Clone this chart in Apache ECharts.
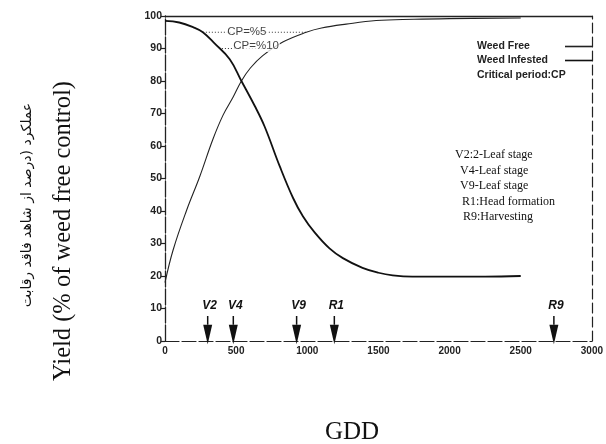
<!DOCTYPE html>
<html>
<head>
<meta charset="utf-8">
<script src="https://cdn.jsdelivr.net/npm/echarts@6/dist/echarts.min.js"></script>
<style>
html,body{margin:0;padding:0;background:#fff;}
#chart{width:606px;height:444px;}
</style>
</head>
<body>
<div id="chart"></div>
<script>
// ---- data ----
const freeGdd = [0, 57, 150, 245, 336, 408, 478, 537, 600, 687, 828, 993, 1100, 1273, 1484, 1750, 2000, 2500];
const freeYield = [18, 28, 40, 50.7, 62, 69.5, 75, 80, 84, 87.8, 92, 95, 96.3, 97.5, 98.6, 99, 99.2, 99.4];
const infGdd = [0, 100, 200, 266, 350, 455, 537, 631, 700, 806, 900, 969, 1050, 1156, 1250, 1388, 1500, 1600, 1738, 2000, 2250, 2500];
const infYield = [98.5, 98, 96.5, 95, 91.5, 86.7, 80, 72.3, 66, 53.8, 44, 38.4, 33.5, 28.5, 25.5, 22.5, 21, 20.2, 19.8, 19.8, 19.8, 20];
const cp5Gdd = [266, 993];
const cp5Yield = [95, 95];
const cp10Gdd = [400, 760];
const cp10Yield = [90, 90];
const cpLabels = ['CP=%5', 'CP=%10'];
const cpLabelGdd = [575, 640];
const cpLabelYield = [95, 90.8];
const stageNames = ['V2', 'V4', 'V9', 'R1', 'R9'];
const stageGdd = [300, 480, 925, 1190, 2733];
const stageText = ['V2:2-Leaf stage', 'V4-Leaf stage', 'V9-Leaf stage', 'R1:Head formation', 'R9:Harvesting'];
const seriesNames = ['Weed Free', 'Weed Infested'];
const xTicks = [0, 500, 1000, 1500, 2000, 2500, 3000];
const yTicks = [0, 10, 20, 30, 40, 50, 60, 70, 80, 90, 100];

const zip = (a, b) => a.map((v, i) => [v, b[i]]);

const chart = echarts.init(document.getElementById('chart'), null, {renderer: 'canvas'});

const stageX = [455, 460, 460, 462, 463];
const stageY = [155, 171, 186, 202, 217];
const barIcon = 'path://M0,0h27v1.6H0z';

const option = {
  animation: false,
  backgroundColor: '#fff',
  grid: {left: 165, right: 13, top: 16, bottom: 103},
  legend: {
    data: seriesNames.map(n => ({name: n, icon: barIcon})),
    orient: 'vertical',
    left: 477, top: 41, padding: 0,
    align: 'right',
    itemWidth: 27, itemHeight: 14, itemGap: 3,
    formatter: n => '{a|' + n + '}',
    textStyle: {
      fontFamily: 'Liberation Sans', fontWeight: 'bold', fontSize: 10.5, color: '#222',
      rich: {a: {width: 83, align: 'left', fontFamily: 'Liberation Sans', fontWeight: 'bold', fontSize: 10.5, color: '#222', lineHeight: 14}}
    }
  },
  xAxis: [{
    type: 'value', min: xTicks[0], max: xTicks[xTicks.length - 1], interval: 500,
    axisLine: {show: true, lineStyle: {color: '#222', width: 1.2, type: [14, 3]}},
    axisTick: {show: false},
    splitLine: {show: false},
    axisLabel: {margin: 5, color: '#222', fontFamily: 'Liberation Sans', fontWeight: 'bold', fontSize: 10, formatter: v => String(v)}
  }, {
    type: 'value', position: 'top', min: 0, max: 3000,
    axisLine: {show: true, onZero: false, lineStyle: {color: '#222', width: 1.3}},
    axisTick: {show: false}, axisLabel: {show: false}, splitLine: {show: false}
  }],
  yAxis: [{
    type: 'value', min: yTicks[0], max: yTicks[yTicks.length - 1], interval: 10,
    axisLine: {show: true, lineStyle: {color: '#222', width: 1.3, type: [16, 2]}},
    axisTick: {show: true, length: 4, lineStyle: {color: '#222', width: 1.2}},
    splitLine: {show: false},
    axisLabel: {margin: 3, color: '#222', fontFamily: 'Liberation Sans', fontWeight: 'bold', fontSize: 10.5, formatter: v => String(v)}
  }, {
    type: 'value', position: 'right', min: 0, max: 100,
    axisLine: {show: true, onZero: false, lineStyle: {color: '#222', width: 1.2, type: [10, 4]}},
    axisTick: {show: false}, axisLabel: {show: false}, splitLine: {show: false}
  }],
  series: [
    {
      name: seriesNames[0], type: 'line', smooth: 0.4, symbol: 'none',
      data: zip(freeGdd, freeYield),
      lineStyle: {color: '#222', width: 1.1}, itemStyle: {color: '#222'}
    },
    {
      name: seriesNames[1], type: 'line', smooth: 0.4, symbol: 'none',
      data: zip(infGdd, infYield),
      lineStyle: {color: '#111', width: 1.8}, itemStyle: {color: '#111'}
    },
    {
      name: 'cp5', type: 'line', symbol: 'none', data: zip(cp5Gdd, cp5Yield),
      lineStyle: {color: '#333', width: 1, type: [1, 2]}, z: 1
    },
    {
      name: 'cp10', type: 'line', symbol: 'none', data: zip(cp10Gdd, cp10Yield),
      lineStyle: {color: '#333', width: 1, type: [1, 2]}, z: 1
    },
    {
      name: 'cpLabels', type: 'scatter', symbolSize: 1,
      itemStyle: {color: 'rgba(0,0,0,0)'},
      data: cpLabels.map((t, i) => ({value: [cpLabelGdd[i], cpLabelYield[i]], name: t})),
      label: {
        show: true, position: 'inside', formatter: p => p.name,
        fontFamily: 'Liberation Sans', fontSize: 11.5, color: '#111',
        backgroundColor: '#fff', padding: [0, 1]
      },
      z: 3
    },
    {
      name: 'stages', type: 'custom',
      data: stageGdd.map((g, i) => [g, i]),
      renderItem: function (params, api) {
        const x = api.value(0);
        const name = stageNames[api.value(1)];
        const top = api.coord([x, 7.7]);
        const headTop = api.coord([x, 5]);
        const tip = api.coord([x, -1]);
        const lab = api.coord([x, 11]);
        return {
          type: 'group',
          children: [
            {type: 'line', shape: {x1: top[0], y1: top[1], x2: headTop[0], y2: headTop[1]}, style: {stroke: '#111', lineWidth: 1.5}},
            {type: 'polygon', shape: {points: [[headTop[0] - 4.5, headTop[1]], [headTop[0] + 4.5, headTop[1]], [tip[0], tip[1]]]}, style: {fill: '#111'}},
            {type: 'text', style: {text: name, x: lab[0] + 2, y: lab[1], align: 'center', verticalAlign: 'middle', font: 'italic bold 12px "Liberation Sans"', fill: '#111'}}
          ]
        };
      },
      z: 4
    }
  ],
  graphic: [
    {type: 'text', x: 477, y: 75, style: {text: 'Critical period:CP', font: 'bold 10.5px "Liberation Sans"', fill: '#222', verticalAlign: 'middle'}},
    ...stageText.map((t, i) => ({
      type: 'text', x: stageX[i], y: stageY[i],
      style: {text: t, font: '12px "Liberation Serif"', fill: '#111', verticalAlign: 'middle', align: 'left'}
    })),
    {type: 'text', x: 64, y: 231, rotation: Math.PI / 2,
      style: {text: 'Yield (% of weed free control)', font: '24.5px "Liberation Serif"', fill: '#111', align: 'center', verticalAlign: 'middle'}},
    {type: 'text', x: 27, y: 205, rotation: Math.PI / 2,
      style: {text: 'عملکرد (درصد از شاهد فاقد رقابت', font: '14px "DejaVu Sans"', fill: '#111', align: 'center', verticalAlign: 'middle'}},
    {type: 'text', x: 352, y: 432,
      style: {text: 'GDD', font: '25px "Liberation Serif"', fill: '#111', align: 'center', verticalAlign: 'middle'}}
  ]
};
chart.setOption(option);
</script>
</body>
</html>
